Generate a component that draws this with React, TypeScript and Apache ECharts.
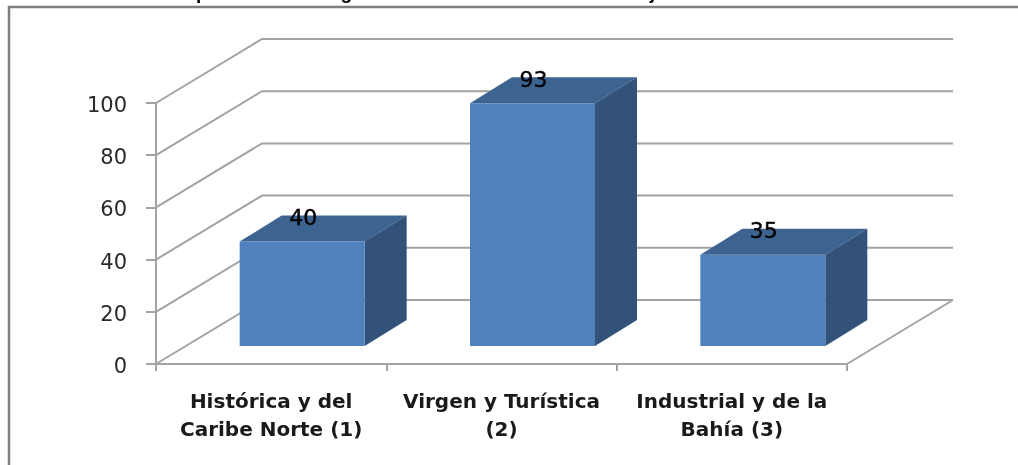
import React, { useEffect, useRef } from "react";
import * as echarts from "echarts";

const categories = ["Histórica y del\nCaribe Norte (1)", "Virgen y Turística\n(2)", "Industrial y de la\nBahía (3)"];
const values = [40, 93, 35];
const yTicks = [0, 20, 40, 60, 80, 100];
const titleText = "Gráfica 1. Pacientes por localidad según localidad. Periodo de enero a junio de 2013";

const FONT = "'DejaVu Sans', sans-serif";
const GRID_COLOR = "#a3a3a3";
const WALL_DX = 106;
const WALL_DY = -64;
const BAR_DX = 42;
const BAR_DY = -26;
const BAR_SHIFT_X = 31;
const BAR_SHIFT_Y = -18;
const BAR_W = 125;

function renderWall(params: any, api: any) {
  const v = api.value(1);
  const cs = params.coordSys;
  const y = api.coord([0, v])[1];
  const left = cs.x;
  const right = cs.x + cs.width;
  const children: any[] = [
    {
      type: "polyline",
      shape: { points: [[left, y], [left + WALL_DX, y + WALL_DY], [right + WALL_DX, y + WALL_DY]] },
      style: { stroke: GRID_COLOR, lineWidth: 2, fill: "none" },
    },
  ];
  if (v === 0) {
    children.push({
      type: "line",
      shape: { x1: right, y1: y, x2: right + WALL_DX, y2: y + WALL_DY },
      style: { stroke: GRID_COLOR, lineWidth: 2 },
    });
  }
  return { type: "group", children };
}

function renderBar(_params: any, api: any) {
  const top = api.coord([api.value(0), api.value(1)]);
  const base = api.coord([api.value(0), 0]);
  const x0 = top[0] - BAR_W / 2 + BAR_SHIFT_X;
  const x1 = x0 + BAR_W;
  const yt = top[1] + BAR_SHIFT_Y;
  const yb = base[1] + BAR_SHIFT_Y;
  return {
    type: "group",
    children: [
      {
        type: "polygon",
        shape: { points: [[x0, yt], [x1, yt], [x1 + BAR_DX, yt + BAR_DY], [x0 + BAR_DX, yt + BAR_DY]] },
        style: { fill: "#3d6390" },
      },
      {
        type: "polygon",
        shape: { points: [[x1, yt], [x1 + BAR_DX, yt + BAR_DY], [x1 + BAR_DX, yb + BAR_DY], [x1, yb]] },
        style: { fill: "#325279" },
      },
      { type: "rect", shape: { x: x0, y: yt, width: BAR_W, height: yb - yt }, style: { fill: "#4f81bd" } },
      {
        type: "text",
        x: (x0 + x1) / 2 + 1,
        y: yt - 24,
        style: {
          text: String(api.value(1)),
          fill: "#000",
          stroke: "#000",
          lineWidth: 0.4,
          font: `22px ${FONT}`,
          align: "center",
          verticalAlign: "middle",
        },
      },
    ],
  };
}

export default function App() {
  const ref = useRef<HTMLDivElement>(null);
  useEffect(() => {
    const chart = echarts.init(ref.current!, null, { renderer: "svg" });
    chart.setOption({
      animation: false,
      backgroundColor: "#fff",
      grid: { left: 156, right: 171, top: 103, bottom: 101, containLabel: false },
      xAxis: {
        type: "category",
        data: categories,
        axisLine: { lineStyle: { color: GRID_COLOR, width: 2 } },
        axisTick: { show: true, length: 7, alignWithLabel: false, lineStyle: { color: GRID_COLOR, width: 2 } },
        axisLabel: {
          interval: 0,
          margin: 23,
          color: "#1a1a1a",
          fontFamily: FONT,
          fontWeight: "bold",
          fontSize: 20,
          lineHeight: 28,
        },
      },
      yAxis: {
        type: "value",
        min: 0,
        max: 100,
        interval: 20,
        splitLine: { show: false },
        axisLine: { show: true, lineStyle: { color: GRID_COLOR, width: 2 } },
        axisTick: { show: true, length: 10, lineStyle: { color: GRID_COLOR, width: 2 } },
        axisLabel: {
          margin: 29,
          formatter: "{a|{value}}",
          rich: { a: { color: "#2a2a2a", fontFamily: FONT, fontSize: 21, padding: [4, 0, 0, 0] } },
        },
      },
      series: [
        {
          type: "custom",
          silent: true,
          clip: false,
          z: 1,
          renderItem: renderWall,
          encode: { x: 0, y: 1 },
          data: yTicks.map((t) => [0, t]),
        },
        {
          type: "custom",
          silent: true,
          clip: false,
          z: 3,
          renderItem: renderBar,
          encode: { x: 0, y: 1 },
          data: values.map((v, i) => [i, v]),
        },
      ],
      graphic: [
        {
          type: "text",
          x: 10,
          y: -17,
          silent: true,
          style: {
            text: titleText,
            fill: "#000",
            font: "bold 19px 'Liberation Sans', sans-serif",
          },
        },
        {
          type: "polyline",
          shape: { points: [[9, 465], [9, 7], [1018, 7]] },
          style: { stroke: "#7f7f7f", lineWidth: 2.5, fill: "none" },
        },
      ],
    });
    return () => chart.dispose();
  }, []);
  return (
    <div
      ref={ref}
      style={{ position: "fixed", left: 0, top: 0, width: 1018, height: 465, filter: "blur(0.5px)" }}
    />
  );
}
